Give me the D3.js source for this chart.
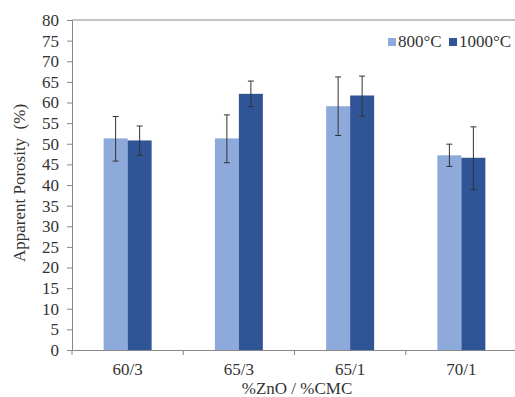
<!DOCTYPE html>
<html><head><meta charset="utf-8">
<script src="https://cdn.jsdelivr.net/npm/d3@7"></script>
<style>body{margin:0;background:#fff}svg{display:block}</style>
</head><body>
<script>
const categories = ["60/3", "65/3", "65/1", "70/1"];
const seriesNames = ["800°C", "1000°C"];
const values800 = [51.3, 51.3, 59.1, 47.2];
const values1000 = [50.8, 62.1, 61.7, 46.6];
const errLow800 = [45.8, 45.4, 52.0, 44.5];
const errHigh800 = [56.6, 57.0, 66.2, 49.9];
const errLow1000 = [47.2, 59.0, 56.7, 38.9];
const errHigh1000 = [54.3, 65.2, 66.4, 54.1];
const yTicks = d3.range(0, 81, 5);
const colors = ["#8eaadb", "#2f5597"];

const W = 515, H = 397;
const m = {left: 72, right: 0, top: 20, bottom: 47};
const svg = d3.select("body").append("svg").attr("width", W).attr("height", H);
const font = "'Liberation Serif','Times New Roman',serif";
const fs = 17;

const x = d3.scaleBand().domain(categories).range([m.left, m.left + 445]).paddingInner(0).paddingOuter(0);
const y = d3.scaleLinear().domain([0, 80]).range([H - m.bottom, m.top]);
const xs = d3.scaleBand().domain([0, 1]).range([0, 48]);

// top border line
svg.append("line").attr("x1", m.left).attr("x2", W).attr("y1", y(80)).attr("y2", y(80))
  .attr("stroke", "#888").attr("stroke-width", 1);

const data = categories.map((c, i) => ({c, vals: [
  {s: 0, v: values800[i], lo: errLow800[i], hi: errHigh800[i]},
  {s: 1, v: values1000[i], lo: errLow1000[i], hi: errHigh1000[i]}
]}));

const g = svg.selectAll("g.cat").data(data).enter().append("g")
  .attr("transform", d => `translate(${x(d.c) + x.bandwidth()/2 - 24},0)`);
g.selectAll("rect").data(d => d.vals).enter().append("rect")
  .attr("x", d => xs(d.s)).attr("width", xs.bandwidth())
  .attr("y", d => y(d.v)).attr("height", d => y(0) - y(d.v))
  .attr("fill", d => colors[d.s]);
const eb = g.selectAll("g.eb").data(d => d.vals).enter().append("g")
  .attr("stroke", "#333").attr("stroke-width", 1);
eb.append("line").attr("x1", d => xs(d.s) + 12).attr("x2", d => xs(d.s) + 12)
  .attr("y1", d => y(d.hi)).attr("y2", d => y(d.lo));
eb.append("line").attr("x1", d => xs(d.s) + 9).attr("x2", d => xs(d.s) + 15)
  .attr("y1", d => y(d.hi)).attr("y2", d => y(d.hi));
eb.append("line").attr("x1", d => xs(d.s) + 9).attr("x2", d => xs(d.s) + 15)
  .attr("y1", d => y(d.lo)).attr("y2", d => y(d.lo));

// y axis
const ya = svg.append("g").attr("transform", `translate(${m.left},0)`)
  .call(d3.axisLeft(y).tickValues(yTicks).tickSize(5).tickPadding(8));
ya.select(".domain").attr("stroke", "#888");
ya.selectAll(".tick line").attr("stroke", "#888");
ya.selectAll("text").attr("font-family", font).attr("font-size", fs).attr("fill", "#333");

// x axis
const xa = svg.append("g").attr("transform", `translate(0,${y(0)})`)
  .call(d3.axisBottom(x).tickSize(0).tickPadding(13));
xa.select(".domain").attr("stroke", "#888");
xa.selectAll("text").attr("font-family", font).attr("font-size", fs).attr("fill", "#333");
svg.append("g").selectAll("line").data(categories.concat(["end"])).enter().append("line")
  .attr("x1", (d, i) => m.left + i * x.step()).attr("x2", (d, i) => m.left + i * x.step())
  .attr("y1", y(0)).attr("y2", y(0) + 5).attr("stroke", "#888");

// axis titles
svg.append("text").attr("x", 297).attr("y", 394).attr("text-anchor", "middle")
  .attr("font-family", font).attr("font-size", fs).attr("fill", "#333").text("%ZnO / %CMC");
svg.append("text").attr("transform", `translate(25,${183}) rotate(-90)`).attr("text-anchor", "middle")
  .attr("font-family", font).attr("font-size", fs).attr("fill", "#333").attr("xml:space", "preserve")
  .text("Apparent Porosity  (%)");

// legend
const leg = svg.append("g");
const lx = [388, 449];
seriesNames.forEach((n, i) => {
  leg.append("rect").attr("x", lx[i]).attr("y", 38).attr("width", 8).attr("height", 8).attr("fill", colors[i]);
  leg.append("text").attr("x", lx[i] + 10).attr("y", 47).attr("font-family", font).attr("font-size", fs)
    .attr("fill", "#333").text(n);
});
</script>
</body></html>
